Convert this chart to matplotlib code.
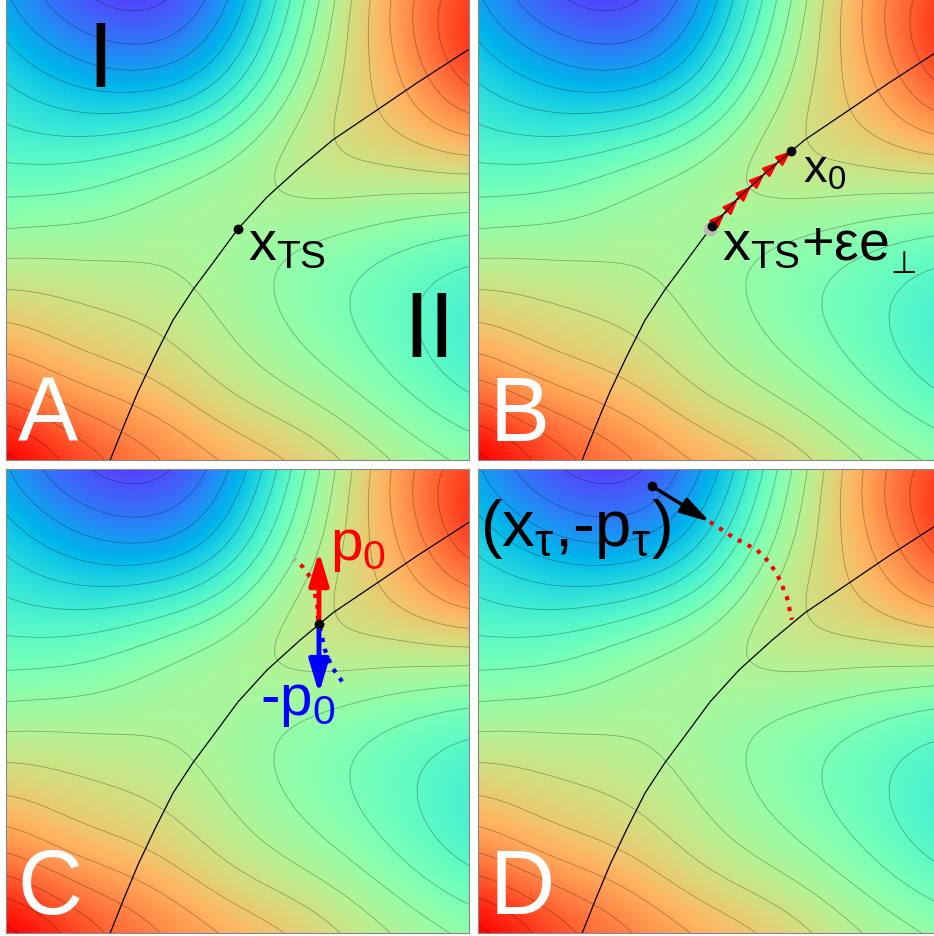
import numpy as np
import matplotlib.pyplot as plt
from matplotlib.patches import FancyArrowPatch

plt.rcParams['font.family'] = ['Liberation Sans', 'DejaVu Sans']
plt.rcParams['mathtext.fontset'] = 'custom'
plt.rcParams['mathtext.rm'] = 'Liberation Sans'
plt.rcParams['mathtext.it'] = 'Liberation Sans:italic'

# energy level (0 = purple ... 1 = red), rows from bottom (v=0) to top (v=1)
u_grid = [0, .125, .25, .375, .5, .625, .75, .875, 1]
v_grid = [0, .125, .25, .375, .5, .625, .75, .875, 1]
level_grid = [
    [1.00, .92, .86, .80, .75, .70, .64, .58, .53],
    [.87, .82, .77, .72, .66, .62, .56, .50, .45],
    [.75, .71, .68, .65, .60, .55, .50, .45, .39],
    [.65, .64, .63, .61, .575, .53, .49, .45, .42],
    [.54, .55, .56, .57, .57, .57, .55, .52, .50],
    [.45, .45, .47, .53, .575, .61, .64, .66, .67],
    [.36, .33, .32, .35, .43, .60, .67, .75, .82],
    [.29, .22, .18, .21, .33, .50, .68, .80, .92],
    [.22, .13, .09, .11, .24, .45, .66, .81, .91],
]
contour_levels = np.arange(0.05, 1.0, 0.055)

# separatrix through the saddle (panel units)
sep_x = [0.225, 0.255, 0.285, 0.322, 0.361, 0.403, 0.447, 0.501, 0.564, 0.635, 0.706, 0.801, 0.888, 0.998, 1.05]
sep_y = [0.000, 0.075, 0.147, 0.225, 0.302, 0.366, 0.425, 0.498, 0.567, 0.631, 0.690, 0.754, 0.813, 0.884, 0.91]

saddle = (0.501, 0.498)
x_eps = (0.505, 0.504)
x0 = (0.676, 0.666)

# relaxation path x_TS+eps e -> x0 (panel B)
relax_x = [0.505, 0.533, 0.561, 0.590, 0.619, 0.648, 0.676]
relax_y = [0.504, 0.532, 0.562, 0.590, 0.617, 0.642, 0.666]

# forward / backward trajectories (panel C)
fwd_x = [0.674, 0.672, 0.663, 0.657, 0.641, 0.624]
fwd_y = [0.675, 0.711, 0.746, 0.767, 0.789, 0.804]
bwd_x = [0.678, 0.689, 0.704, 0.728]
bwd_y = [0.659, 0.610, 0.573, 0.539]
p_tip = 0.822
mp_tip = 0.516

# trajectory back to x0 (panel D)
traj_x = [0.501, 0.551, 0.603, 0.631, 0.652, 0.667, 0.678]
traj_y = [0.886, 0.853, 0.825, 0.797, 0.761, 0.724, 0.675]
x_tau = (0.376, 0.963)

# smooth surface through the read levels (gaussian rbf)
gu, gv = np.meshgrid(u_grid, v_grid)
pts = np.column_stack([gu.ravel(), gv.ravel()])
z = np.array(level_grid).ravel()
sig = 0.2
K = np.exp(-((pts[:, None, :] - pts[None, :, :]) ** 2).sum(-1) / (2 * sig ** 2))
w = np.linalg.solve(K + 4e-3 * np.eye(len(z)), z - z.mean())
n = 240
gx, gy = np.meshgrid(np.linspace(0, 1, n), np.linspace(0, 1, n))
q = np.column_stack([gx.ravel(), gy.ravel()])
Kq = np.exp(-((q[:, None, :] - pts[None, :, :]) ** 2).sum(-1) / (2 * sig ** 2))
V = (Kq @ w + z.mean()).reshape(n, n)

fig = plt.figure(figsize=(9.34, 9.36), dpi=100)
W, H = 934., 936.
pw, ph = 463., 464.
boxes = {'A': (6, -4), 'B': (478, -4), 'C': (6, 469), 'D': (478, 469)}
axs = {}
for k, (l, t) in boxes.items():
    ax = fig.add_axes([l / W, 1 - (t + ph) / H, pw / W, ph / H])
    ax.imshow(V, origin='lower', extent=[0, 1, 0, 1], cmap='rainbow',
              vmin=0, vmax=1, interpolation='bilinear', aspect='auto')
    ax.contour(gx, gy, V, levels=contour_levels, colors='k', linewidths=0.6, alpha=0.3)
    ax.plot(sep_x, sep_y, color='k', lw=0.9)
    ax.set_xlim(0, 1)
    ax.set_ylim(0, 1)
    ax.set_xticks([])
    ax.set_yticks([])
    for s in ax.spines.values():
        s.set_color('#888888')
        s.set_linewidth(0.8)
    ax.text(0.025, 0.042, k, color='white', fontsize=65, ha='left', va='baseline')
    axs[k] = ax

lab = 40

# A
ax = axs['A']
ax.text(0.204, 0.804, 'I', fontsize=67, ha='center', va='baseline')
ax.text(0.915, 0.222, 'II', fontsize=67, ha='center', va='baseline')
ax.plot(*saddle, 'o', color='k', ms=6)
ax.text(0.523, 0.431, r'$\mathrm{x_{TS}}$', fontsize=lab, ha='left', va='baseline')

# B
ax = axs['B']
ax.plot(*saddle, 'o', color='#bbbbbb', ms=9)
ax.plot(*x_eps, 'o', color='k', ms=6)
for i in range(len(relax_x) - 1):
    ax.add_patch(FancyArrowPatch((relax_x[i], relax_y[i]), (relax_x[i + 1], relax_y[i + 1]),
                                 arrowstyle='-|>,head_length=9,head_width=3.5',
                                 color='red', lw=1.6, shrinkA=0, shrinkB=0))
ax.plot(*x0, 'o', color='k', ms=6)
ax.text(0.702, 0.597, r'$\mathrm{x_0}$', fontsize=34, ha='left', va='baseline')
t = ax.text(0.527, 0.431, r'$\mathrm{x_{TS}}$+εe', fontsize=lab, ha='left', va='baseline')
# perpendicular sign as a small subscript right after the e
fig.canvas.draw()
bb = t.get_window_extent()
y_disp = ax.transData.transform((0.527, 0.431))[1] - 13
ax.text(bb.x1 + 1, y_disp, '⊥', fontsize=22, family='DejaVu Sans', ha='left', va='baseline',
        transform=None)

# C
ax = axs['C']
ax.plot(fwd_x, fwd_y, ':', color='red', lw=3)
ax.plot(bwd_x, bwd_y, ':', color='blue', lw=3)
ax.add_patch(FancyArrowPatch(x0, (x0[0], p_tip), arrowstyle='-|>,head_length=20,head_width=6',
                             color='red', lw=3.5, shrinkA=0, shrinkB=0))
ax.add_patch(FancyArrowPatch(x0, (x0[0], mp_tip), arrowstyle='-|>,head_length=20,head_width=6',
                             color='blue', lw=3.5, shrinkA=0, shrinkB=0))
ax.plot(*x0, 'o', color='k', ms=6)
ax.text(0.70, 0.804, r'$\mathrm{p_0}$', fontsize=42, color='red', ha='left', va='baseline')
ax.text(0.549, 0.47, r'-$\mathrm{p_0}$', fontsize=42, color='blue', ha='left', va='baseline')

# D
ax = axs['D']
ax.plot(traj_x, traj_y, ':', color='red', lw=3)
ax.add_patch(FancyArrowPatch(x_tau, (traj_x[0], traj_y[0]), arrowstyle='-|>,head_length=18,head_width=5',
                             color='k', lw=2.5, shrinkA=0, shrinkB=0))
ax.plot(*x_tau, 'o', color='k', ms=6)
ax.text(0.005, 0.835, r'($\mathrm{x_{τ}}$,-$\mathrm{p_{τ}}$)', fontsize=47, ha='left', va='baseline')

fig.savefig('out.png', dpi=100)
